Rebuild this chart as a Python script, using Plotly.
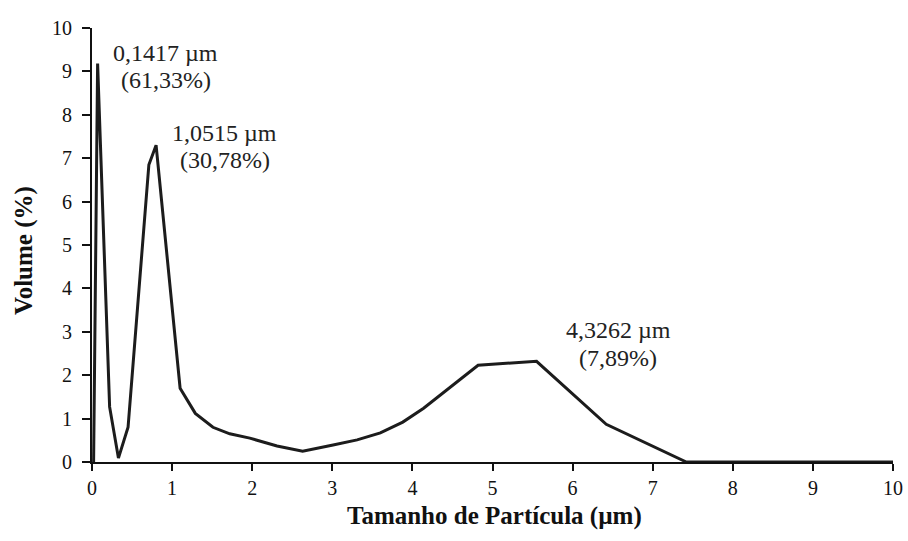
import plotly.graph_objects as go

# Particle size (µm) and volume (%)
tamanho = [0.02, 0.07, 0.22, 0.33, 0.45, 0.71, 0.80, 1.10, 1.29, 1.51, 1.72,
           1.97, 2.31, 2.63, 3.01, 3.31, 3.60, 3.88, 4.14, 4.82, 5.55, 6.42,
           7.42, 10.0]
volume = [0.0, 9.18, 1.27, 0.09, 0.80, 6.85, 7.30, 1.70, 1.12, 0.80, 0.65,
          0.55, 0.37, 0.25, 0.39, 0.51, 0.67, 0.92, 1.24, 2.23, 2.32, 0.87,
          0.0, 0.0]

# Peak labels
peak_x = [0.92, 1.66, 6.57]
peak_y1 = [9.42, 7.58, 3.04]
peak_y2 = [8.80, 6.96, 2.40]
peak_size = ["0,1417 µm", "1,0515 µm", "4,3262 µm"]
peak_pct = ["(61,33%)", "(30,78%)", "(7,89%)"]

tick_vals = list(range(0, 11))
tick_text = [str(v) for v in tick_vals]

x_title = "Tamanho de Partícula (µm)"
y_title = "Volume (%)"

FONT = "Times New Roman, Liberation Serif, serif"

fig = go.Figure()
fig.add_trace(go.Scatter(
    x=tamanho, y=volume, mode="lines",
    line=dict(color="#1c1c1c", width=3),
    cliponaxis=False, showlegend=False, hoverinfo="skip",
))

annotations = []
for xx, y1, y2, t1, t2 in zip(peak_x, peak_y1, peak_y2, peak_size, peak_pct):
    annotations.append(dict(x=xx, y=y1, text=t1, showarrow=False,
                            xanchor="center", yanchor="middle",
                            font=dict(family=FONT, size=24, color="#222")))
    annotations.append(dict(x=xx, y=y2, text=t2, showarrow=False,
                            xanchor="center", yanchor="middle",
                            font=dict(family=FONT, size=24, color="#222")))

# axis titles
annotations.append(dict(xref="paper", yref="paper", x=0.502, y=-0.125,
                        text="<b>" + x_title + "</b>", showarrow=False,
                        xanchor="center", yanchor="middle",
                        font=dict(family=FONT, size=25, color="#111")))
annotations.append(dict(xref="paper", yref="paper", x=-0.085, y=0.488,
                        text="<b>" + y_title + "</b>", showarrow=False,
                        textangle=-90, xanchor="center", yanchor="middle",
                        font=dict(family=FONT, size=25, color="#111")))

fig.update_layout(
    width=908, height=541,
    margin=dict(l=92, r=15, t=28, b=79),
    paper_bgcolor="white", plot_bgcolor="white",
    font=dict(family=FONT, color="#111"),
    annotations=annotations,
    xaxis=dict(
        range=[0, 10], tickvals=tick_vals, ticktext=tick_text,
        automargin=False,
        showline=True, linecolor="#111", linewidth=2,
        ticks="outside", ticklen=7, tickwidth=1.5, tickcolor="#111",
        showgrid=False, zeroline=False,
        tickfont=dict(family=FONT, size=20, color="#111"),
    ),
    yaxis=dict(
        range=[0, 10], tickvals=tick_vals, ticktext=tick_text,
        automargin=False,
        showline=True, linecolor="#111", linewidth=2,
        ticks="outside", ticklen=8, tickwidth=1.5, tickcolor="#111",
        ticklabelstandoff=6,
        showgrid=False, zeroline=False,
        tickfont=dict(family=FONT, size=20, color="#111"),
    ),
)

fig.write_html("out.html")
